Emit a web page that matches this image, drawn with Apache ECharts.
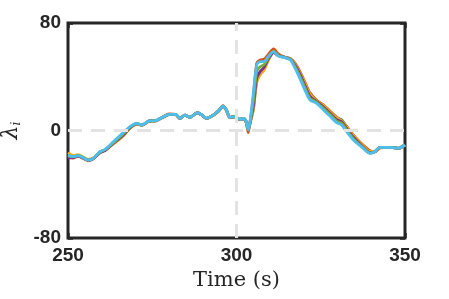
<!DOCTYPE html>
<html><head><meta charset="utf-8">
<script src="https://cdn.jsdelivr.net/npm/echarts@6/dist/echarts.min.js"></script>
<style>html,body{margin:0;padding:0;background:#fff}#c{width:449px;height:299px}</style>
</head><body><div id="c"></div>
<script>
const times = [250,251.5,253,254,256,257.5,259.5,261,263.5,266.4,268.4,270.4,272,274,276,278,280,282,283.2,284.7,286.2,288.4,289.7,291.1,293,294.6,296,297,298,299.6,301,302,302.8,303.5,304.2,305,306,307,308.2,309.4,311,312.4,314.4,316,317.4,318.8,320.3,321.8,323.8,325.8,327.7,329.7,331.2,332.7,334.7,337,339.6,341,342.6,344.6,346.5,348,350];
const blueVals = [-18,-19.5,-18.7,-19.5,-22,-20.7,-16,-14.5,-9.5,-3,2,5,4,7,7.3,9.8,12,12,9,11.5,9.8,13.3,11.5,9,11.3,14.5,18.2,15.3,9.8,10.3,8.3,9,7,0.5,7.5,16,37,42,46,52.5,58.5,56,54.5,53.3,49,42.5,34.5,26.5,22,18,13.5,9.5,8,2.5,-4.5,-10.5,-16,-15.8,-12.5,-12.5,-12.8,-13.3,-10.8];
const orangeVals = [-20,-20.5,-19,-20,-22.5,-21,-16.5,-14.5,-9,-2.5,2.5,5,4,7,7.3,9.8,12.3,11.8,9,11.5,9.8,13.3,11.5,9,11.3,14.5,18.5,15,9.5,10,8,8.5,6.5,-1.6,9,25,50,52.5,53,56.5,60.8,57,54.5,53.5,50,44,36,28,22.5,19,14.5,10,7,3,-3.5,-9.5,-15,-16,-13,-12.5,-12.8,-13.3,-10.8];
const yellowVals = [-16.5,-18.5,-18,-19,-21.5,-20.5,-16,-14.5,-10,-4,1.5,4.5,3.8,6.8,7,9.5,11.8,11.8,9,11.3,9.8,13,11.5,9,11,14,17.8,15.5,10,10.3,8.3,9,7.3,1.5,7,15,36,41.3,45,52,58,56,54.5,53.5,49.5,43,35,27,22,18.5,14,9.5,7.5,2.5,-4,-10,-15.5,-15.5,-12.5,-12.5,-12.8,-13.3,-10.8];
const purpleVals = [-20.5,-20,-19,-20,-22,-21,-16.5,-15,-9.5,-3.5,2,5,4,7,7.2,9.6,11.8,11.8,9,11.4,9.8,13.2,11.5,9,11.2,14.3,18,15.3,10,10.3,8.3,9,7,1,8,18,39,43.8,47,53,58,55.8,54.3,53,48.5,42,33.5,25.5,21.5,17.5,13,8,6.5,1.5,-5,-11,-16.5,-15.8,-12.5,-12.5,-12.8,-13.3,-10.8];
const greenVals = [-19,-19.5,-18.7,-19.5,-22,-20.7,-16,-14.3,-9,-2.5,2.5,5.2,4,7,7.3,9.8,12,12,9,11.5,9.8,13.3,11.5,9,11.3,14.5,18.2,15.3,9.8,10.3,8.3,9,7,0.8,9,22,44,47.5,49,54,59,55.6,54.2,52.8,47.5,40.5,32,24,21,16.5,12,7,5.5,0.5,-6,-11.5,-16.8,-15.8,-12.5,-12.5,-12.8,-13.3,-10.8];
const cyanVals = [-18.2,-19.5,-18.7,-19.5,-22,-20.7,-15.8,-14,-8.3,-1.6,2.9,5.3,4.1,7.1,7.3,9.8,12,12,9,11.5,9.8,13.3,11.5,9,11.3,14.5,18.2,15.3,9.8,10.3,8.3,9,7,0.4,10.3,27.7,48.8,51.3,51.3,55,58.7,55.4,54.2,52.5,46.3,38.8,30.1,22.7,20.2,15.3,10.8,5.8,4.1,-0.9,-7,-12,-17,-15.8,-12.5,-12.5,-12.8,-13.3,-10.8];
const xTicks = [250, 300, 350];
const yTicks = [-80, 0, 80];

const seriesDefs = [
  ['#0072BD', blueVals], ['#D95319', orangeVals], ['#EDB120', yellowVals],
  ['#7E2F8E', purpleVals], ['#77AC30', greenVals], ['#4DBEEE', cyanVals]
];
const dark = '#262626';
const tickStyle = {show: true, inside: true, length: 5, lineStyle: {color: dark, width: 2.5}};
const lblFont = {color: dark, fontFamily: 'Liberation Sans', fontWeight: 'bold', fontSize: 19};
const noLine = {show: false, onZero: false};

const chart = echarts.init(document.getElementById('c'), null, {renderer: 'canvas'});
const series = [{
  type: 'line', data: [], z: 1, silent: true,
  markLine: {
    silent: true, symbol: 'none', label: {show: false},
    lineStyle: {color: '#e3e3e3', width: 3, type: [14, 9]},
    data: [{xAxis: 300}, {yAxis: 0}]
  }
}].concat(seriesDefs.map(([c, v]) => ({
  type: 'line', z: 2, showSymbol: false, smooth: 0.25,
  data: times.map((t, i) => [t, v[i]]),
  lineStyle: {color: c, width: 2.8}, itemStyle: {color: c}
})));

chart.setOption({
  animation: false,
  grid: {left: 68, right: 44, top: 23, bottom: 61, show: true, borderColor: dark, borderWidth: 3,
         backgroundColor: 'transparent', containLabel: false, outerBoundsMode: 'none'},
  xAxis: [{
    type: 'value', min: xTicks[0], max: xTicks[2], interval: 50, position: 'bottom',
    axisLine: noLine, axisTick: tickStyle, splitLine: {show: false},
    axisLabel: Object.assign({margin: 8}, lblFont),
    name: 'Time (s)', nameLocation: 'middle', nameGap: 31,
    nameTextStyle: {fontFamily: 'DejaVu Serif', fontSize: 21, color: dark}
  }, {
    type: 'value', min: xTicks[0], max: xTicks[2], interval: 50, position: 'top',
    axisLine: noLine, axisTick: tickStyle, splitLine: {show: false}, axisLabel: {show: false}
  }],
  yAxis: [{
    type: 'value', min: yTicks[0], max: yTicks[2], interval: 80, position: 'left',
    axisLine: noLine, axisTick: tickStyle, splitLine: {show: false},
    axisLabel: Object.assign({margin: 7}, lblFont),
    name: '{l|λ}{s|i}', nameLocation: 'middle', nameGap: 45, nameRotate: 90,
    nameTextStyle: {color: dark, rich: {
      l: {fontFamily: 'DejaVu Serif', fontStyle: 'italic', fontSize: 22, color: dark},
      s: {fontFamily: 'DejaVu Serif', fontStyle: 'italic', fontSize: 12, color: dark, verticalAlign: 'bottom', padding: [10, 0, 0, 0]}
    }}
  }, {
    type: 'value', min: yTicks[0], max: yTicks[2], interval: 80, position: 'right',
    axisLine: noLine, axisTick: tickStyle, splitLine: {show: false}, axisLabel: {show: false}
  }],
  series: series
});
</script></body></html>
